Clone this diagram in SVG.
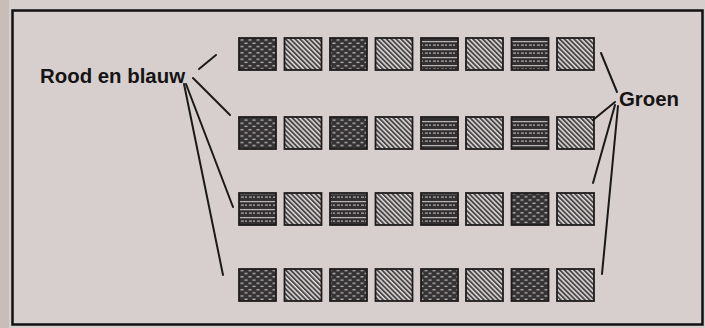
<svg xmlns="http://www.w3.org/2000/svg" width="705" height="328" viewBox="0 0 705 328">
  <defs>
    <pattern id="dots" width="8" height="6.4" patternUnits="userSpaceOnUse">
      <rect width="8" height="6.4" fill="#353334"/>
      <rect x="0.5" y="1" width="3" height="1.3" fill="#bdb6b6"/>
      <rect x="4.5" y="4.2" width="3" height="1.3" fill="#bdb6b6"/>
    </pattern>
    <pattern id="bands" width="8" height="8" patternUnits="userSpaceOnUse">
      <rect width="8" height="8" fill="#333132"/>
      <rect x="0" y="1" width="8" height="1.2" fill="#bdb6b6"/>
      <rect x="1" y="4.5" width="3" height="1.3" fill="#a9a2a2"/>
      <rect x="5" y="4.5" width="2" height="1.3" fill="#a9a2a2"/>
    </pattern>
    <pattern id="hatch" width="3.4" height="3.4" patternUnits="userSpaceOnUse" patternTransform="rotate(-45)">
      <rect width="3.4" height="3.4" fill="#e2dcdc"/>
      <rect width="1.9" height="3.4" fill="#4a4748"/>
    </pattern>
  </defs>
  <style>
    .bg { fill: #d7cfce; }
    .frame { fill: none; stroke: #111; stroke-width: 2.5; }
    .d { fill: url(#dots); stroke: #1e1c1d; stroke-width: 1.8; }
    .b { fill: url(#bands); stroke: #1e1c1d; stroke-width: 1.8; }
    .h { fill: url(#hatch); stroke: #1e1c1d; stroke-width: 1.8; }
    .lbl { font-family: "Liberation Sans", Arial, sans-serif; font-weight: bold; font-size: 20.4px; fill: #151314; }
    .con line { stroke: #1a1819; stroke-width: 2; stroke-linecap: round; }
  </style>
  <rect class="bg" x="0" y="0" width="705" height="328"/>
  <rect x="0" y="0" width="9" height="328" fill="#c9bdba"/>
  <rect class="frame" x="12.5" y="10.5" width="690" height="314"/>

  <g id="row1">
    <rect class="d" x="239" y="38" width="37" height="32"/>
    <rect class="h" x="284.5" y="38" width="37" height="32"/>
    <rect class="d" x="330" y="38" width="37" height="32"/>
    <rect class="h" x="375.5" y="38" width="37" height="32"/>
    <rect class="b" x="421" y="38" width="37" height="32"/>
    <rect class="h" x="466" y="38" width="37" height="32"/>
    <rect class="b" x="511.5" y="38" width="37" height="32"/>
    <rect class="h" x="557" y="38" width="37" height="32"/>
  </g>
  <g id="row2">
    <rect class="d" x="239" y="117" width="37" height="32"/>
    <rect class="h" x="284.5" y="117" width="37" height="32"/>
    <rect class="d" x="330" y="117" width="37" height="32"/>
    <rect class="h" x="375.5" y="117" width="37" height="32"/>
    <rect class="b" x="421" y="117" width="37" height="32"/>
    <rect class="h" x="466" y="117" width="37" height="32"/>
    <rect class="b" x="511.5" y="117" width="37" height="32"/>
    <rect class="h" x="557" y="117" width="37" height="32"/>
  </g>
  <g id="row3">
    <rect class="b" x="239" y="193" width="37" height="32"/>
    <rect class="h" x="284.5" y="193" width="37" height="32"/>
    <rect class="b" x="330" y="193" width="37" height="32"/>
    <rect class="h" x="375.5" y="193" width="37" height="32"/>
    <rect class="b" x="421" y="193" width="37" height="32"/>
    <rect class="h" x="466" y="193" width="37" height="32"/>
    <rect class="d" x="511.5" y="193" width="37" height="32"/>
    <rect class="h" x="557" y="193" width="37" height="32"/>
  </g>
  <g id="row4">
    <rect class="d" x="239" y="269" width="37" height="32"/>
    <rect class="h" x="284.5" y="269" width="37" height="32"/>
    <rect class="d" x="330" y="269" width="37" height="32"/>
    <rect class="h" x="375.5" y="269" width="37" height="32"/>
    <rect class="d" x="421" y="269" width="37" height="32"/>
    <rect class="h" x="466" y="269" width="37" height="32"/>
    <rect class="d" x="511.5" y="269" width="37" height="32"/>
    <rect class="h" x="557" y="269" width="37" height="32"/>
  </g>

  <g id="label-rood-en-blauw">
    <text class="lbl" x="40" y="83">Rood en blauw</text>
  </g>
  <g id="label-groen">
    <text class="lbl" x="619" y="106">Groen</text>
  </g>

  <g id="connectors" class="con">
    <line x1="199" y1="69" x2="216" y2="55"/>
    <line x1="193" y1="78" x2="230" y2="115"/>
    <line x1="186" y1="84" x2="233" y2="207"/>
    <line x1="184" y1="84" x2="223" y2="275"/>
    <line x1="601" y1="53" x2="617" y2="92"/>
    <line x1="593" y1="120" x2="615" y2="102"/>
    <line x1="615" y1="105" x2="593" y2="183"/>
    <line x1="618" y1="106" x2="602" y2="274"/>
  </g>
</svg>
